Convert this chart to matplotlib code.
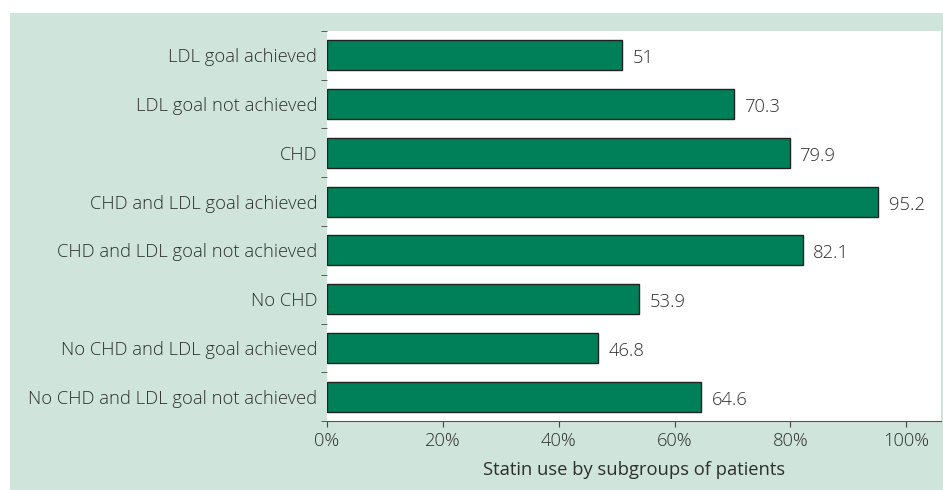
import numpy as np
import matplotlib; matplotlib.use("Agg")
import matplotlib.pyplot as plt
from matplotlib.patches import Rectangle

labels = ["LDL goal achieved", "LDL goal not achieved", "CHD", "CHD and LDL goal achieved",
          "CHD and LDL goal not achieved", "No CHD", "No CHD and LDL goal achieved",
          "No CHD and LDL goal not achieved"]
values = [51, 70.3, 79.9, 95.2, 82.1, 53.9, 46.8, 64.6]
xticks = [0, 20, 40, 60, 80, 100]
xlabel = "Statin use by subgroups of patients"

BG = "#cfe4db"; BAR = "#008058"; TXT = "#2e2e2e"
plt.rcParams["font.family"] = ["Open Sans", "DejaVu Sans"]
plt.rcParams["font.weight"] = "light"
plt.rcParams["font.size"] = 13.2

fig = plt.figure(figsize=(9.43, 4.9), dpi=100)
fig.patches.append(Rectangle((10/943, 0), 1, 1 - 13/490, transform=fig.transFigure,
                             facecolor=BG, edgecolor="none", zorder=-10))
ax = fig.add_axes([327/943, 1 - 421/490, 614/943, 390/490])
ax.set_facecolor("white")

y = np.arange(len(labels))
ax.barh(y, values, height=0.62, color=BAR, edgecolor="#222222", lw=1)
for yi, v in zip(y, values):
    ax.text(v + 1.8, yi + 0.06, f"{v:g}", va="center", ha="left", color=TXT)

ax.set_ylim(len(labels) - 0.5, -0.5)
ax.set_xlim(0, 106)
ax.set_yticks(y, labels, color=TXT)
ax.set_yticks(np.arange(len(labels) + 1) - 0.5, minor=True)
ax.tick_params(axis="y", which="major", length=0, pad=7)
ax.tick_params(axis="y", which="minor", length=4, color="#444444")
ax.set_xticks(xticks, [f"{t}%" for t in xticks], color=TXT)
ax.tick_params(axis="x", length=4, color="#444444", pad=4)
ax.set_xlabel(xlabel, color=TXT, labelpad=8)
for s in ["top", "right", "left"]:
    ax.spines[s].set_visible(False)
ax.spines["bottom"].set_color("#555555")

fig.savefig("out.png", dpi=100)
